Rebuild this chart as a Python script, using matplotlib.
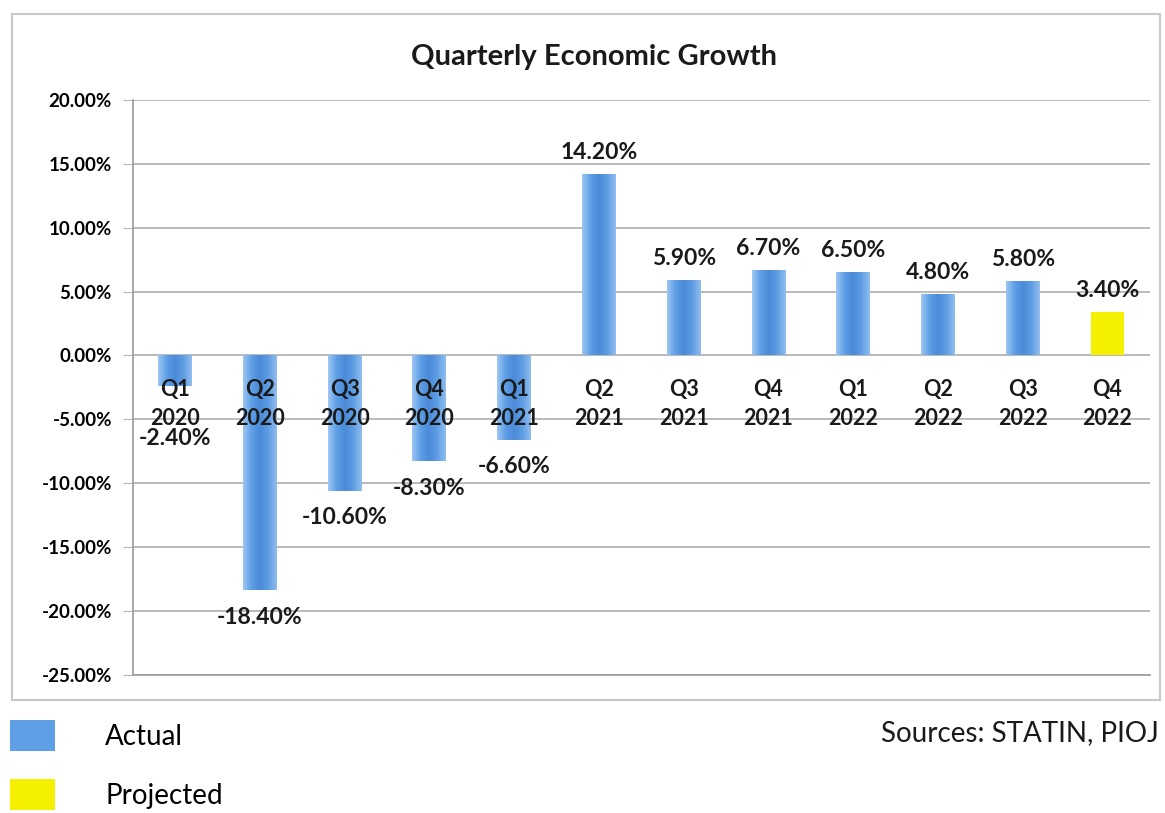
import numpy as np
import matplotlib
matplotlib.use("Agg")
import matplotlib.pyplot as plt
from matplotlib.patches import Patch, Rectangle
from matplotlib.colors import LinearSegmentedColormap

plt.rcParams['font.family'] = ['Lato', 'DejaVu Sans']

quarters = ["Q1", "Q2", "Q3", "Q4", "Q1", "Q2", "Q3", "Q4", "Q1", "Q2", "Q3", "Q4"]
years = ["2020", "2020", "2020", "2020", "2021", "2021", "2021", "2021",
         "2022", "2022", "2022", "2022"]
growth = [-2.4, -18.4, -10.6, -8.3, -6.6, 14.2, 5.9, 6.7, 6.5, 4.8, 5.8, 3.4]
projected = [False] * 11 + [True]
yticks = [-25, -20, -15, -10, -5, 0, 5, 10, 15, 20]

blue_grad = LinearSegmentedColormap.from_list(
    "bar", ["#9cc6f2", "#5e9fe6", "#4a8ad8", "#5f9de4", "#8fbdee"])
yellow = "#f5f000"
grid_col = "#b4b4b4"

fig = plt.figure(figsize=(11.65, 8.13), dpi=100)
ax = fig.add_axes([0.114, 0.170, 0.873, 0.707])

# outer chart border
fig.patches.append(Rectangle((0.0103, 0.139), 0.985, 0.844, transform=fig.transFigure,
                             fill=False, edgecolor="#c8c8c8", linewidth=1.5))

x = np.arange(len(growth))
bars = ax.bar(x, growth, width=0.40,
              color=[yellow if p else "none" for p in projected], zorder=3)

# horizontal gradient fill for the actual bars
grad = np.linspace(0, 1, 64).reshape(1, -1)
for b, p in zip(bars, projected):
    if p:
        continue
    x0, y0 = b.get_x(), b.get_y()
    w, h = b.get_width(), b.get_height()
    im = ax.imshow(grad, cmap=blue_grad, aspect="auto", zorder=3,
                   extent=[x0, x0 + w, y0, y0 + h], origin="lower")
    im.set_clip_path(b)

ax.set_xlim(-0.5, len(growth) - 0.5)
ax.set_ylim(-25, 20)

ax.set_yticks(yticks)
ax.set_yticklabels([f"{t:.2f}%" for t in yticks], fontsize=13.5, fontweight="bold")
ax.tick_params(axis="y", length=7, color=grid_col, pad=8)
ax.set_xticks([])
ax.yaxis.grid(True, color=grid_col, linewidth=1.3, zorder=0)
ax.set_axisbelow(True)
for s in ["top", "right"]:
    ax.spines[s].set_visible(False)
ax.spines["left"].set_color("#a0a0a0")
ax.spines["bottom"].set_color("#a0a0a0")
ax.spines["left"].set_linewidth(1.3)
ax.spines["bottom"].set_linewidth(1.3)

# category labels sit just under the zero line
for i, (q, y) in enumerate(zip(quarters, years)):
    ax.annotate(f"{q}\n{y}", (i, 0), xytext=(0, -17), textcoords="offset points",
                ha="center", va="top", fontsize=15.5, fontweight="bold",
                color="#1a1a1a", linespacing=1.45, zorder=5)

# value labels
for i, v in enumerate(growth):
    if v >= 0:
        ly = v + 1.7
    else:
        ly = min(v - 2.1, -6.5)
    ax.text(i, ly, f"{v:.2f}%", ha="center", va="center", fontsize=16.5,
            fontweight="bold", color="#1a1a1a", zorder=5)

fig.text(0.51, 0.930, "Quarterly Economic Growth", ha="center", va="center",
         fontsize=21, fontweight="bold", color="#1a1a1a")

handles = [Patch(facecolor="#5e9fe6", edgecolor="none"),
           Patch(facecolor=yellow, edgecolor="none")]
fig.legend(handles, ["Actual", "Projected"], loc="upper left",
           bbox_to_anchor=(0.0086, 0.1144), frameon=False, fontsize=20,
           handlelength=1.62, handleheight=1.36, handletextpad=1.8,
           labelspacing=1.0, borderaxespad=0, borderpad=0)

fig.text(0.995, 0.098, "Sources: STATIN, PIOJ", ha="right", va="center",
         fontsize=20, color="#1a1a1a")

fig.savefig("out.png", dpi=100)
